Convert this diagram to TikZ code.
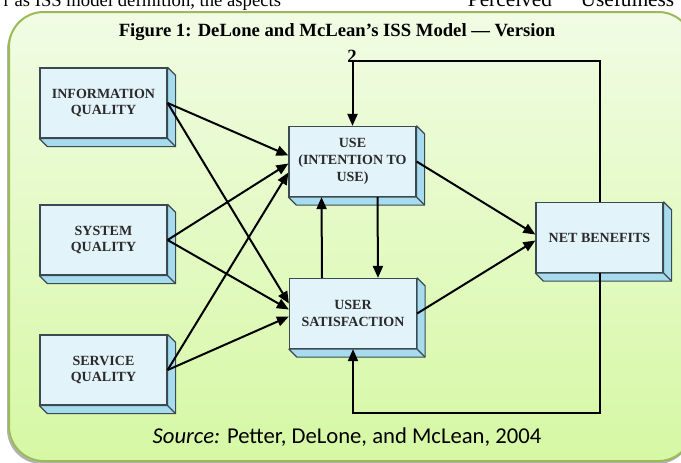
\documentclass[tikz,border=0pt]{standalone}
\usepackage{fontspec}
\setmainfont{Liberation Serif}
\newfontfamily\sourcefont{Carlito}
\usetikzlibrary{arrows.meta,calc}

\definecolor{panelline}{HTML}{9BBB59}
\definecolor{paneltop}{HTML}{F1FCE4}
\definecolor{panelbottom}{HTML}{D6F8A4}
\definecolor{slabfront}{HTML}{E3F3FA}
\definecolor{slabside}{HTML}{A6DCEE}
\definecolor{slabline}{HTML}{3C4A50}
\definecolor{slabtext}{HTML}{2A2A2A}

\tikzset{
  slab/.style={draw=slabline, fill=slabfront, line width=0.9pt, minimum width=95.25pt, minimum height=52.5pt, inner sep=2pt, align=center, text=slabtext, font=\bfseries\fontsize{10.5}{12.5}\selectfont},
  slabedge/.style={draw=slabline, fill=slabside, line width=0.9pt, line join=round},
  flow/.style={line width=1.5pt, -{Triangle[length=9pt,width=7.5pt]}},
}

\newcommand{\slabdepth}[1]{%
  \draw[slabedge] (#1.north east) -- ([shift={(8,8)}]#1.north east) -- ([shift={(8,8)}]#1.south east) -- ([shift={(8,8)}]#1.south west) -- (#1.south west) -- (#1.south east) -- cycle;
  \draw[slabline, line width=0.9pt] (#1.south east) -- ([shift={(8,8)}]#1.south east);
}

\begin{document}
\begin{tikzpicture}[x=0.75pt,y=0.75pt,yscale=-1,xscale=1]
\useasboundingbox (0,0) rectangle (681,462);
\clip (0,0) rectangle (681,462);

% Panel
\fill[black!30, rounded corners=26pt] (7,15) rectangle (692,464);
\shade[top color=paneltop, bottom color=panelbottom, rounded corners=26pt] (9,12) rectangle (693,461);
\draw[panelline, line width=1.5pt, rounded corners=26pt] (9,12) rectangle (693,461);

% Text Node
\node[anchor=base west, font=\fontsize{14}{16}\selectfont] (leadin) at (-1,6) {r as ISS model definition, the aspects};
% Text Node
\node[anchor=base east, font=\fontsize{16}{18}\selectfont] (leadout) at (679,6) {Perceived\hspace{0.9em}“Usefulness};
% Text Node
\node[font=\bfseries\fontsize{14}{16}\selectfont] (title) at (337,32) {Figure 1: DeLone and McLean’s ISS Model — Version};
% Text Node
\node[font=\bfseries\fontsize{14}{16}\selectfont] (titlenum) at (352,56) {2};

% Boxes
\node[slab] (iq) at (103.5,103) {INFORMATION\\QUALITY};
\slabdepth{iq}
\node[slab] (sq) at (103.5,240) {SYSTEM\\QUALITY};
\slabdepth{sq}
\node[slab] (svq) at (103.5,370) {SERVICE\\QUALITY};
\slabdepth{svq}
\node[slab] (use) at (352.5,161.5) {USE\\(INTENTION TO\\USE)};
\slabdepth{use}
\node[slab] (us) at (353,313.5) {USER\\SATISFACTION};
\slabdepth{us}
\node[slab] (nb) at (599.5,237.5) {NET BENEFITS};
\slabdepth{nb}

% Connection
\draw[flow] (iq.east) -- ($(use.west)+(0,-6)$);
\draw[flow] (iq.east) -- ($(us.west)+(0,-10)$);
\draw[flow] (sq.east) -- ($(use.west)+(0,2)$);
\draw[flow] (sq.east) -- ($(us.west)+(0,-4)$);
\draw[flow] (svq.east) -- ($(use.west)+(0,11)$);
\draw[flow] (svq.east) -- ($(us.west)+(0,3)$);
% Connection
\draw[flow] (use.east) -- ($(nb.west)+(0,-3)$);
\draw[flow] (us.east) -- ($(nb.west)+(0,3)$);
% Connection
\draw[flow] ($(us.north)+(-31,0)$) -- ($(use.south)+(-31,0)$);
\draw[flow] ($(use.south)+(25,0)$) -- ($(us.north)+(25,0)$);
% Connection
\draw[flow] (nb.north) -- ++(0,-141) -| (use.north);
\draw[flow] (nb.south) -- ++(0,140) -| (us.south);

% Text Node
\node[font=\sourcefont\fontsize{17}{19}\selectfont] (source) at (347,437) {\textit{Source:} Petter, DeLone, and McLean, 2004};

\end{tikzpicture}
\end{document}
